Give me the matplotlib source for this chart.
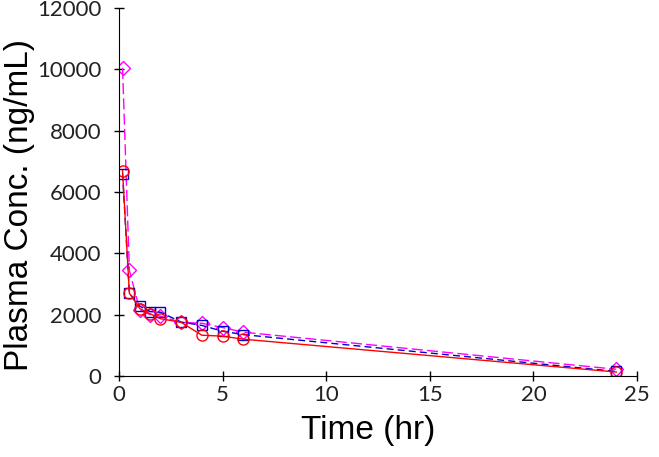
import numpy as np
import matplotlib.pyplot as plt

time_hr = [0.17, 0.5, 1, 1.5, 2, 3, 4, 5, 6, 24]
red_conc = [6700, 2700, 2200, 2030, 1870, 1750, 1330, 1300, 1200, 130]
blue_conc = [6600, 2700, 2280, 2100, 2080, 1760, 1650, 1460, 1350, 150]
magenta_conc = [10050, 3450, 2150, 2000, 1950, 1750, 1720, 1580, 1430, 220]

if __name__ == "__main__":
    fig = plt.figure(figsize=(6.59, 4.57), dpi=100)
    ax = fig.add_axes([0.1806, 0.1772, 0.786, 0.8053])

    ax.plot(time_hr, magenta_conc, color="#FF00FF", lw=1.0, ls=(0, (8, 3)),
            marker="D", ms=7, mfc="none", mec="#FF00FF", mew=1.0)
    ax.plot(time_hr, blue_conc, color="#0000CC", lw=1.0, ls=(0, (5, 3)),
            marker="s", ms=7, mfc="none", mec="#0000CC", mew=1.0)
    ax.plot(time_hr, red_conc, color="#FF0000", lw=1.0, ls="-",
            marker="o", ms=8, mfc="none", mec="#FF0000", mew=1.0)

    ax.set_xlim(0, 25)
    ax.set_ylim(0, 12000)
    ax.set_xticks(np.arange(0, 26, 5))
    ax.set_yticks(np.arange(0, 12001, 2000))

    for side in ("top", "right"):
        ax.spines[side].set_visible(False)
    ax.tick_params(direction="inout", length=7, width=1, labelsize=16)
    ax.tick_params(axis="y", pad=9)
    ax.tick_params(axis="x", pad=3)
    for lab in ax.get_xticklabels() + ax.get_yticklabels():
        lab.set_family("Lato")
        lab.set_color("#222222")

    ax.set_xlabel("Time (hr)", fontsize=24, family="Liberation Sans")
    ax.set_ylabel("Plasma Conc. (ng/mL)", fontsize=24, family="Liberation Sans")
    ax.xaxis.set_label_coords(0.481, -0.105)
    ax.yaxis.set_label_coords(-0.162, 0.466)

    plt.savefig("out.png", dpi=100)
